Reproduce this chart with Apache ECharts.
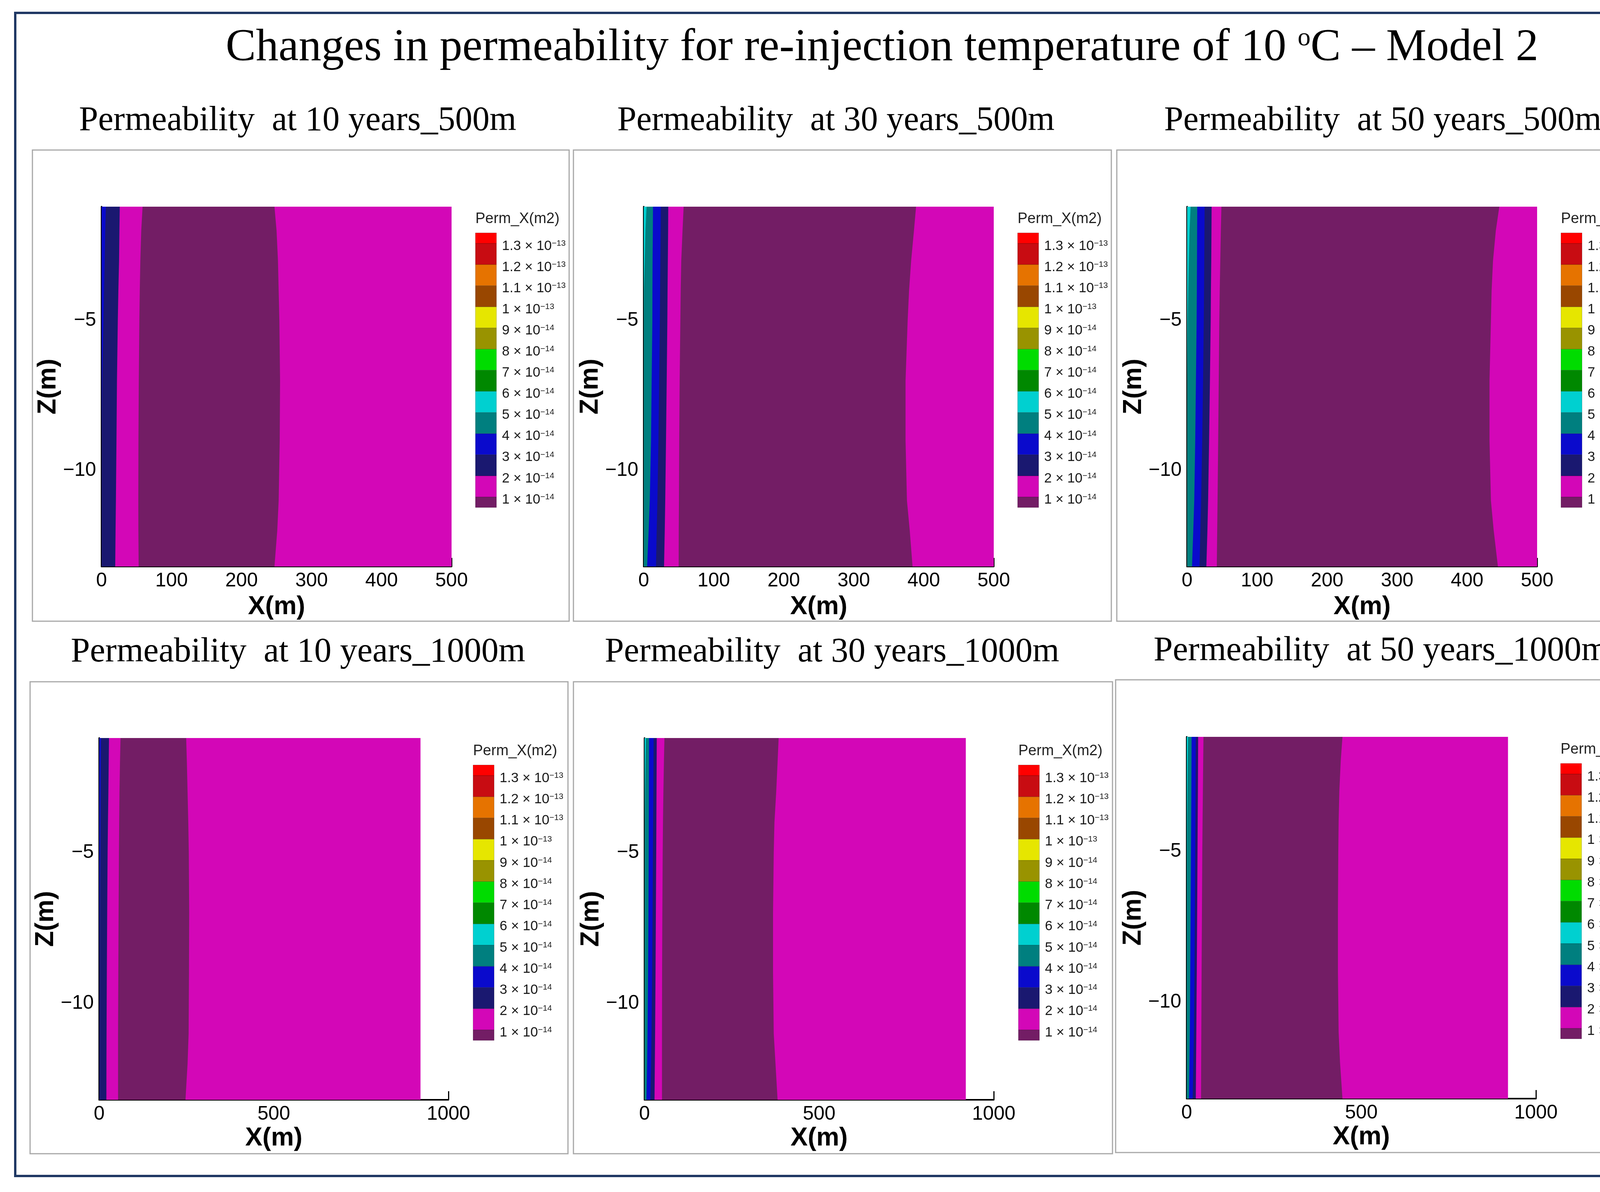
<!DOCTYPE html>
<html>
<head>
<meta charset="utf-8">
<title>Changes in permeability - Model 2</title>
<script src="https://cdn.jsdelivr.net/npm/echarts@6/dist/echarts.min.js"></script>
<style>
html, body { margin: 0; padding: 0; background: #fff; }
#main { width: 4335px; height: 3051px; }
</style>
</head>
<body>
<div id="main"></div>
<script>
var zLevels = [-1.2, -2, -3, -4, -5, -7, -9, -11, -12, -13.2];
var zMajor = [-10, -5];
var zMinor = [-13, -12, -11, -9, -8, -7, -6, -4, -3, -2];

// contour edges: x (m) of each band's right edge at every zLevel
// 10 years, 500 m
var y10_500_e56 = [0, 0, 0, 0, 0, 0, 0, 0, 0, 0];
var y10_500_e45 = [0, 0, 0, 0, 0, 0, 0, 0, 0, 0];
var y10_500_e34 = [6.2, 5.3, 4.5, 3.6, 2.8, 0.9, 0, 0, 0, 0];
var y10_500_e23 = [26, 25.5, 25, 24, 23.2, 22, 21.3, 20.5, 20, 19.5];
var y10_500_e12 = [58.6, 56.7, 55.4, 54.6, 54, 53.2, 52.7, 52.5, 52.6, 53];
var y10_500_e11 = [247, 250, 252, 253, 254, 255, 254.5, 253, 251, 247];
// 30 years, 500 m
var y30_500_e56 = [4, 2.5, 1.5, 0.3, 0, 0, 0, 0, 0, 0];
var y30_500_e45 = [13.2, 13, 12.6, 12.4, 12.3, 11.3, 10.4, 8.6, 7, 4.8];
var y30_500_e34 = [24.4, 24.2, 23.8, 23.4, 23, 22, 21, 19.5, 18.5, 17.5];
var y30_500_e23 = [35, 34.8, 34.4, 34, 33.7, 32.8, 31.8, 30.7, 30, 29];
var y30_500_e12 = [57, 55.4, 53.6, 52.8, 52.3, 51.3, 50.7, 50.3, 50, 49.9];
var y30_500_e11 = [389, 386, 382, 379, 377, 374, 374, 376, 380, 384];
// 50 years, 500 m
var y50_500_e56 = [5, 3.5, 2.5, 1.6, 0.8, 0, 0, 0, 0, 0];
var y50_500_e45 = [14.5, 14.3, 14.1, 13.9, 13.6, 12.6, 11.6, 10.2, 8.8, 7];
var y50_500_e34 = [25, 24.8, 24.5, 24.2, 23.8, 22.8, 21.6, 20, 19, 17.7];
var y50_500_e23 = [35, 34.8, 34.5, 34, 33.7, 32.6, 31.4, 30, 29, 27.5];
var y50_500_e12 = [49, 48.2, 47.4, 46.6, 46, 45.2, 44.4, 43.5, 43, 42.4];
var y50_500_e11 = [446, 441, 437, 435, 434, 432, 432, 434, 438, 444];
// 10 years, 1000 m
var y10_1000_e56 = [0, 0, 0, 0, 0, 0, 0, 0, 0, 0];
var y10_1000_e45 = [0, 0, 0, 0, 0, 0, 0, 0, 0, 0];
var y10_1000_e34 = [5, 4.5, 4, 3.5, 3, 1.5, 0, 0, 0, 0];
var y10_1000_e23 = [28, 27.2, 26.2, 25, 24, 22.8, 21.8, 21, 20.7, 20.5];
var y10_1000_e12 = [61, 59.5, 58, 57.2, 56.5, 55.5, 54.7, 54, 54, 54];
var y10_1000_e11 = [249, 251, 253, 255, 256.5, 257.6, 257, 256, 253, 247];
// 30 years, 1000 m
var y30_1000_e56 = [4, 2.5, 1, 0, 0, 0, 0, 0, 0, 0];
var y30_1000_e45 = [13, 12.8, 12.5, 12.2, 12, 11.2, 10.2, 8.6, 7.5, 5.6];
var y30_1000_e34 = [26, 25.6, 25.2, 24.6, 24, 23, 21.8, 20, 18.8, 16.7];
var y30_1000_e23 = [35, 34.7, 34.3, 33.9, 33.5, 32.5, 31.5, 30.3, 29.5, 28.6];
var y30_1000_e12 = [57, 55.5, 54, 52.8, 52, 51, 50.3, 50, 50, 50];
var y30_1000_e11 = [384, 381, 377, 372, 370, 368, 368, 370, 375, 381];
// 50 years, 1000 m
var y50_1000_e56 = [4, 3, 2, 1, 0.5, 0, 0, 0, 0, 0];
var y50_1000_e45 = [14, 13.7, 13.3, 12.8, 12.3, 11.3, 10.2, 9, 8, 6.7];
var y50_1000_e34 = [26, 25.7, 25.4, 25, 24.5, 23.4, 22.2, 20.5, 19, 17];
var y50_1000_e23 = [32.7, 32.4, 32, 31.4, 30.9, 29.9, 28.8, 27.5, 26.8, 26];
var y50_1000_e12 = [48, 47.2, 46.3, 45.4, 44.6, 43.6, 42.6, 41.8, 41.4, 41];
var y50_1000_e11 = [446, 441, 437, 435, 434, 433, 433, 435, 439, 446];

var subTitles = ['Permeability  at 10 years_500m', 'Permeability  at 30 years_500m', 'Permeability  at 50 years_500m',
  'Permeability  at 10 years_1000m', 'Permeability  at 30 years_1000m', 'Permeability  at 50 years_1000m'];
var modelEnd = [500, 500, 500, 920, 920, 920];   // model extent along x (m)
var xMaxes = [500, 500, 500, 1000, 1000, 1000];
var xSteps = [100, 100, 100, 500, 500, 500];

// colour bar
var cbLower = [0.5, 1, 2, 3, 4, 5, 6, 7, 8, 9, 10, 11, 12, 13];
var cbUpper = [1, 2, 3, 4, 5, 6, 7, 8, 9, 10, 11, 12, 13, 13.5];
var cbColors = ['#731D65', '#D307B7', '#1A1870', '#0A0ACC', '#007F7F', '#00D0D0', '#008800',
  '#00DC00', '#999300', '#E6E600', '#994700', '#E67300', '#C80C12', '#FF0000'];
var cbLevels = [1, 2, 3, 4, 5, 6, 7, 8, 9, 10, 11, 12, 13];
var cbMantissa = ['1', '2', '3', '4', '5', '6', '7', '8', '9', '1', '1.1', '1.2', '1.3'];
var cbExponent = ['\u221214', '\u221214', '\u221214', '\u221214', '\u221214', '\u221214', '\u221214',
  '\u221214', '\u221214', '\u221213', '\u221213', '\u221213', '\u221213'];

// painter's order: widest layer first
var layerColors = ['#D307B7', '#731D65', '#D307B7', '#1A1870', '#0A0ACC', '#007F7F', '#00D0D0'];
var panelEdges = [
  [y10_500_e11, y10_500_e12, y10_500_e23, y10_500_e34, y10_500_e45, y10_500_e56],
  [y30_500_e11, y30_500_e12, y30_500_e23, y30_500_e34, y30_500_e45, y30_500_e56],
  [y50_500_e11, y50_500_e12, y50_500_e23, y50_500_e34, y50_500_e45, y50_500_e56],
  [y10_1000_e11, y10_1000_e12, y10_1000_e23, y10_1000_e34, y10_1000_e45, y10_1000_e56],
  [y30_1000_e11, y30_1000_e12, y30_1000_e23, y30_1000_e34, y30_1000_e45, y30_1000_e56],
  [y50_1000_e11, y50_1000_e12, y50_1000_e23, y50_1000_e34, y50_1000_e45, y50_1000_e56]
];

// layout (px)
var plotLeft = [260, 1648, 3039, 254, 1650, 3038];
var plotTop = [529, 529, 529, 1889, 1889, 1886];
var plotW = [896, 896, 896, 894, 894, 894];
var plotH = [921, 921, 921, 926, 926, 926];
var boxRect = [[83, 384, 1374, 1206], [1468, 384, 1377, 1206], [2859, 384, 1380, 1206],
  [77, 1745, 1377, 1208], [1468, 1745, 1380, 1208], [2856, 1740, 1383, 1210]];
var subX = [762, 2140, 3540, 763, 2130, 3535];
var subY = [310, 310, 310, 1670, 1670, 1667];
var cbTop = [596, 596, 596, 1958, 1958, 1954];
var cbH = [703, 703, 703, 705, 705, 705];
var nameGapX = [71, 71, 71, 66, 66, 66];

var sans = 'Liberation Sans';
var serif = 'Liberation Serif';

var chart = echarts.init(document.getElementById('main'));
var grids = [], xAxes = [], yAxes = [], series = [], graphics = [];

graphics.push({
  type: 'rect', z: 0, shape: { x: 39, y: 33, width: 4258, height: 2977 },
  style: { fill: 'none', stroke: '#203864', lineWidth: 6 }
});
graphics.push({
  type: 'text', z: 5, x: 2258, y: 124,
  style: {
    text: '{a|Changes in permeability for re-injection temperature of 10 }{s|o}{a|C \u2013 Model 2}',
    align: 'center', verticalAlign: 'middle',
    rich: {
      a: { fontFamily: serif, fontSize: 116, fill: '#000' },
      s: { fontFamily: serif, fontSize: 66, fill: '#000', verticalAlign: 'top' }
    }
  }
});

function zLabel(v) {
  return v < 0 ? '\u2212' + Math.abs(v) : String(v);
}

for (var k = 0; k < 6; k++) {
  var b = boxRect[k];
  graphics.push({
    type: 'rect', z: 0, shape: { x: b[0], y: b[1], width: b[2], height: b[3] },
    style: { fill: 'none', stroke: '#A8A8A8', lineWidth: 3 }
  });
  graphics.push({
    type: 'text', z: 5, x: subX[k], y: subY[k],
    style: { text: subTitles[k], fontFamily: serif, fontSize: 88, fill: '#000', align: 'center', verticalAlign: 'middle' }
  });
  graphics.push({
    type: 'text', z: 5, x: plotLeft[k] + 957, y: cbTop[k] - 35,
    style: { text: 'Perm_X(m2)', fontFamily: sans, fontSize: 38, fill: '#222', align: 'left', verticalAlign: 'middle' }
  });

  // plot grid
  grids[k] = { left: plotLeft[k], top: plotTop[k], width: plotW[k], height: plotH[k], outerBoundsMode: 'none' };
  xAxes[k] = {
    type: 'value', gridIndex: k, min: 0, max: xMaxes[k], interval: xSteps[k], position: 'bottom',
    axisLine: { show: true, onZero: false, lineStyle: { color: '#000', width: 4 } },
    axisTick: { show: true, inside: true, length: 22, lineStyle: { color: '#000', width: 3 } },
    minorTick: { show: true, splitNumber: 5, length: 10, lineStyle: { color: '#000', width: 2 } },
    splitLine: { show: false },
    axisLabel: { fontFamily: sans, fontSize: 50, color: '#000', margin: 12, formatter: function (v) { return String(v); } },
    name: 'X(m)', nameLocation: 'middle', nameGap: nameGapX[k],
    nameTextStyle: { fontFamily: sans, fontSize: 66, fontWeight: 'bold', color: '#000' }
  };
  yAxes[k] = {
    type: 'value', gridIndex: k, min: zLevels[zLevels.length - 1], max: zLevels[0], position: 'left',
    axisLine: { show: true, onZero: false, lineStyle: { color: '#000', width: 4 } },
    axisTick: { show: true, inside: true, length: 22, customValues: zMajor, lineStyle: { color: '#000', width: 3 } },
    axisLabel: { customValues: zMajor, formatter: zLabel, fontFamily: sans, fontSize: 50, color: '#000', margin: 14 },
    splitLine: { show: false },
    name: 'Z(m)', nameLocation: 'middle', nameGap: 67,
    nameTextStyle: { fontFamily: sans, fontSize: 66, fontWeight: 'bold', color: '#000' }
  };
  yAxes[6 + k] = {
    type: 'value', gridIndex: k, min: zLevels[zLevels.length - 1], max: zLevels[0], position: 'left',
    axisLine: { show: false, onZero: false },
    axisTick: { show: true, inside: true, length: 10, customValues: zMinor, lineStyle: { color: '#000', width: 2 } },
    axisLabel: { show: false },
    splitLine: { show: false }
  };

  (function (k) {
    var layers = [zLevels.map(function () { return modelEnd[k]; })].concat(panelEdges[k]);
    series.push({
      type: 'custom', xAxisIndex: k, yAxisIndex: k, clip: true, silent: true, z: 2,
      data: layers.map(function () { return [0, zLevels[0]]; }),
      renderItem: function (params, api) {
        var edge = layers[params.dataIndex];
        var pts = [];
        for (var i = 0; i < zLevels.length; i++) pts.push(api.coord([0, zLevels[i]]));
        for (var j = zLevels.length - 1; j >= 0; j--) pts.push(api.coord([edge[j], zLevels[j]]));
        return { type: 'polygon', shape: { points: pts }, style: { fill: layerColors[params.dataIndex] } };
      }
    });
  })(k);

  // colour bar grid
  grids[6 + k] = { left: plotLeft[k] + 957, top: cbTop[k], width: 54, height: cbH[k], outerBoundsMode: 'none' };
  xAxes[6 + k] = { type: 'value', gridIndex: 6 + k, min: 0, max: 1, show: false };
  yAxes[12 + k] = {
    type: 'value', gridIndex: 6 + k, min: cbLower[0], max: cbUpper[cbUpper.length - 1], position: 'right',
    axisLine: { show: false }, axisTick: { show: false }, splitLine: { show: false },
    axisLabel: {
      customValues: cbLevels, margin: 14, padding: [14, 0, 0, 0],
      formatter: function (v) {
        var i = cbLevels.indexOf(v);
        return '{m|' + cbMantissa[i] + ' \u00d7 10}{e|' + cbExponent[i] + '}';
      },
      rich: {
        m: { fontFamily: sans, fontSize: 35, color: '#1a1a1a' },
        e: { fontFamily: sans, fontSize: 21, color: '#1a1a1a', verticalAlign: 'top' }
      }
    }
  };
  series.push({
    type: 'custom', xAxisIndex: 6 + k, yAxisIndex: 12 + k, clip: false, silent: true,
    data: cbLower.map(function (lo, i) { return [lo, cbUpper[i]]; }),
    renderItem: function (params, api) {
      var p0 = api.coord([0, api.value(1)]);
      var p1 = api.coord([1, api.value(0)]);
      return {
        type: 'rect',
        shape: { x: p0[0], y: p0[1], width: p1[0] - p0[0], height: p1[1] - p0[1] },
        style: { fill: cbColors[params.dataIndex], stroke: 'rgba(0,0,0,0.25)', lineWidth: 1 }
      };
    }
  });
}

chart.setOption({
  animation: false,
  backgroundColor: '#fff',
  grid: grids,
  xAxis: xAxes,
  yAxis: yAxes,
  series: series,
  graphic: graphics
});
</script>
</body>
</html>
